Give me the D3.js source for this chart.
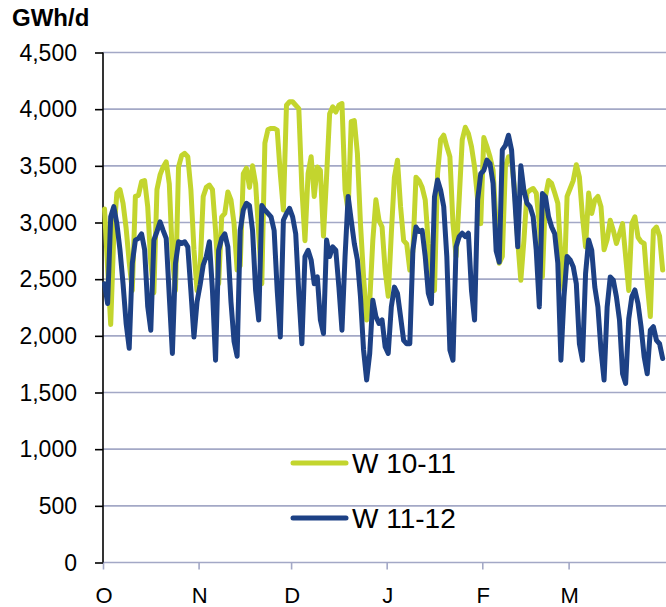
<!DOCTYPE html>
<html>
<head>
<meta charset="utf-8">
<script src="https://cdn.jsdelivr.net/npm/d3@7"></script>
<style>
  html, body { margin: 0; padding: 0; background: #fff; }
  svg { display: block; }
  text { font-family: "Liberation Sans", Arial, sans-serif; fill: #000; }
</style>
</head>
<body>
<svg id="chart" width="666" height="607"></svg>
<script>
// ---- Data (daily GWh/d, 1 Oct .. 31 Mar) ----
const seriesNames = ["W 10-11", "W 11-12"];
const w1011 = [
  // Oct
  3120,2600,2100,2900,3260,3290,3170,2950,2650,2400,3230,3240,3360,3370,3140,2640,2380,3290,3420,3490,3535,3340,2700,2400,3490,3590,3610,3580,3290,2760,2400,
  // Nov
  2600,3230,3310,3330,3290,2930,2460,3050,3080,3270,3200,2990,2580,2620,3430,3480,3310,3500,3340,2900,2460,3700,3820,3830,3830,3815,3430,3110,4035,4065,
  // Dec
  4065,4035,4005,3300,2840,3430,3580,3230,3490,3460,2880,3400,3960,4020,3975,4035,4050,3290,3100,3890,3900,3610,2990,2520,2140,2300,2840,3200,3020,2960,2580,
  // Jan
  2350,2900,3400,3550,3140,2840,2810,2580,2750,3400,3370,3310,3200,2815,2550,2400,3430,3730,3770,3670,3580,2990,2700,3200,3730,3840,3785,3670,3490,3200,2990,
  // Feb
  3750,3670,3580,3460,2990,2640,2700,3490,3580,3550,3285,2840,2490,2840,3260,3285,3300,3260,2990,2520,3230,3370,3345,3260,3170,2700,2400,3230,
  // Mar
  3300,3370,3510,3400,3050,2785,3260,3080,3200,3230,3140,2760,2850,3020,2930,2815,2900,2990,2700,2400,2990,3050,2870,2830,2815,2460,2170,2930,2960,2880,2580
];
const w1112 = [
  // Oct
  2460,2285,3050,3140,2990,2760,2460,2110,1890,2640,2845,2860,2900,2760,2260,2050,2845,2920,3005,2930,2860,2345,1845,2640,2830,2815,2830,2785,2400,1990,2300,
  // Nov
  2450,2625,2700,2830,2400,1785,2755,2860,2900,2785,2300,1950,1820,2930,3110,3170,3150,2930,2400,2140,3150,3110,3080,3050,2930,2400,1990,3020,3080,3125,
  // Dec
  3050,2900,2375,1930,2700,2755,2670,2460,2520,2140,2020,2845,2700,2785,2755,2430,2050,2700,3230,3020,2815,2670,2345,1875,1610,1845,2315,2170,2110,2140,1905,
  // Jan
  1845,2255,2430,2375,2170,1960,1930,1930,2755,2960,2920,2930,2700,2375,2285,3225,3375,3285,3140,2700,1875,1785,2785,2875,2905,2875,2905,2400,2140,3200,3430,
  // Feb
  3460,3550,3520,3345,2750,2650,3640,3680,3770,3640,3225,2785,3500,3285,3170,3140,3050,2755,2255,3255,3225,3050,2960,2900,2640,1785,2345,2700,
  // Mar
  2670,2610,2460,1930,1785,2550,2845,2755,2430,2255,1875,1610,2255,2520,2490,2345,2140,1665,1580,2150,2345,2405,2285,2080,1815,1665,2050,2080,1960,1930,1800
];
const monthLabels = ["O", "N", "D", "J", "F", "M"];
const monthStarts = [0, 31, 61, 92, 123, 151];
const yTicks = [0, 500, 1000, 1500, 2000, 2500, 3000, 3500, 4000, 4500];
const unitLabel = "GWh/d";
const colors = ["#c3d52e", "#1d4185"];

// ---- Layout ----
const svg = d3.select("#chart");
const pLeft = 103, pRight = 664.2, pTop = 52.5, pBottom = 562.5;
const nDays = 182;
const x = d3.scaleLinear().domain([0, nDays]).range([pLeft, pRight]);
const y = d3.scaleLinear().domain([0, 4500]).range([pBottom, pTop]);
const gridColor = "#a3a8c6";

// gridlines
svg.append("g").selectAll("line").data(yTicks.filter(d => d > 0)).join("line")
  .attr("x1", pLeft).attr("x2", 666)
  .attr("y1", d => y(d)).attr("y2", d => y(d))
  .attr("stroke", gridColor).attr("stroke-width", 1.6);

// x axis
const xAxis = d3.axisBottom(x).tickValues(monthStarts).tickSize(7).tickFormat("");
const gx = svg.append("g").attr("transform", `translate(0,${pBottom})`).call(xAxis);
gx.select(".domain").attr("stroke", gridColor).attr("stroke-width", 1.6).attr("d", `M${pLeft},0H666`);
gx.selectAll(".tick line").attr("stroke", gridColor).attr("stroke-width", 1.6);

svg.append("g").selectAll("text").data(monthStarts).join("text")
  .attr("x", (d) => x(d) + 1).attr("y", 603)
  .attr("text-anchor", "middle").attr("font-size", 22)
  .text((d, i) => monthLabels[i]);

// y axis
const yAxis = d3.axisLeft(y).tickValues(yTicks).tickSize(8).tickFormat("");
const gy = svg.append("g").attr("transform", `translate(${pLeft},0)`).call(yAxis);
gy.select(".domain").attr("stroke", "#000").attr("stroke-width", 1.6).attr("d", `M0,${pTop}V${pBottom}`);
gy.selectAll(".tick line").attr("stroke", "#000").attr("stroke-width", 1.6);

svg.append("g").selectAll("text").data(yTicks).join("text")
  .attr("x", 77).attr("y", d => y(d)).attr("dy", "0.36em")
  .attr("text-anchor", "end").attr("font-size", 23)
  .text(d => d3.format(",")(d));

svg.append("text").attr("x", 12).attr("y", 26)
  .attr("font-size", 24).attr("font-weight", "bold").text(unitLabel);

// lines
const line = d3.line().x((d, i) => x(i + 0.5)).y(d => y(d));
[w1011, w1112].forEach((s, k) => {
  svg.append("path").datum(s)
    .attr("d", line)
    .attr("fill", "none")
    .attr("stroke", colors[k])
    .attr("stroke-width", 5)
    .attr("stroke-linejoin", "round")
    .attr("stroke-linecap", "round");
});

// legend
const legY = [463, 518];
seriesNames.forEach((name, k) => {
  svg.append("line").attr("x1", 293).attr("x2", 346)
    .attr("y1", legY[k]).attr("y2", legY[k])
    .attr("stroke", colors[k]).attr("stroke-width", 5).attr("stroke-linecap", "round");
  svg.append("text").attr("x", 352).attr("y", legY[k] + 10)
    .attr("font-size", 28).text(name);
});
</script>
</body>
</html>
